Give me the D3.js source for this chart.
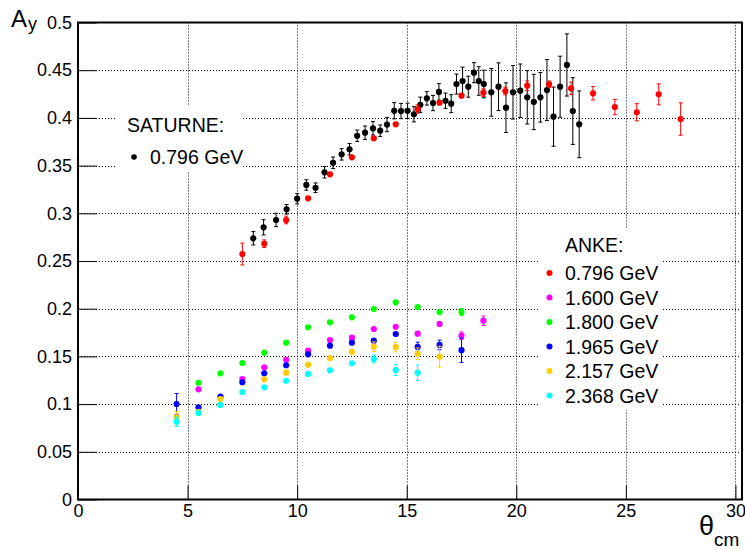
<!DOCTYPE html>
<html>
<head>
<meta charset="utf-8">
<script src="https://cdn.jsdelivr.net/npm/d3@7"></script>
<style>
  html, body { margin: 0; padding: 0; background: #fff; }
  svg { display: block; }
  text { font-family: "Liberation Sans", Arial, Helvetica, sans-serif; fill: #000; }
</style>
</head>
<body>
<svg id="chart" width="745" height="550"></svg>
<script>
// ---------------- DATA ----------------
const xTicks = [0, 5, 10, 15, 20, 25, 30];
const xTickLabels = ["0", "5", "10", "15", "20", "25", "30"];
const yTicks = [0, 0.05, 0.1, 0.15, 0.2, 0.25, 0.3, 0.35, 0.4, 0.45, 0.5];
const yTickLabels = ["0", "0.05", "0.1", "0.15", "0.2", "0.25", "0.3", "0.35", "0.4", "0.45", "0.5"];

// SATURNE 0.796 GeV (black)
const satX = [8.0, 8.47, 9.04, 9.52, 10.0, 10.42, 10.84, 11.25, 11.64, 12.03, 12.39, 12.74, 13.10, 13.46, 13.79,
  14.10, 14.43, 14.74, 15.04, 15.33, 15.62, 15.92, 16.20, 16.47, 16.77, 17.03, 17.27, 17.55, 17.81, 18.07,
  18.29, 18.52, 18.86, 19.19, 19.53, 19.85, 20.18, 20.50, 20.80, 21.10, 21.40, 21.70, 22.00, 22.31, 22.58, 22.87];
const satY = [0.2738, 0.2853, 0.2930, 0.3042, 0.3153, 0.3297, 0.3268, 0.3430, 0.3530, 0.3618, 0.3671, 0.3813, 0.3845, 0.3891, 0.3866,
  0.3930, 0.4075, 0.4072, 0.4075, 0.4038, 0.4138, 0.4205, 0.4156, 0.4272, 0.4180, 0.4149, 0.4355, 0.4387, 0.4327, 0.4474,
  0.4387, 0.4355, 0.4268, 0.4327, 0.4107, 0.4268, 0.4285, 0.4216, 0.4167, 0.4216, 0.4292, 0.4013, 0.4327, 0.4555, 0.4072, 0.3933];
const satErr = [0.007, 0.008, 0.007, 0.005, 0.0055, 0.0055, 0.005, 0.006, 0.006, 0.006, 0.006, 0.006, 0.007, 0.007, 0.006,
  0.0075, 0.0085, 0.008, 0.008, 0.008, 0.008, 0.007, 0.008, 0.0087, 0.008, 0.0094, 0.0105, 0.0145, 0.011, 0.0105,
  0.015, 0.0145, 0.025, 0.025, 0.026, 0.028, 0.028, 0.028, 0.029, 0.026, 0.032, 0.031, 0.032, 0.0326, 0.035, 0.035];

// ANKE series
const ankeLabels = ["0.796 GeV", "1.600 GeV", "1.800 GeV", "1.965 GeV", "2.157 GeV", "2.368 GeV"];
const ankeColors = ["#ff0000", "#ff00ff", "#00ff00", "#0000ff", "#ffcc00", "#00ffff"];

const a0796X = [7.5, 8.5, 9.5, 10.5, 11.5, 12.5, 13.5, 14.5, 15.5, 16.5, 17.5, 18.5, 19.5, 20.5, 21.5, 22.5, 23.5, 24.5, 25.5, 26.5, 27.5];
const a0796Y = [0.2573, 0.2681, 0.2930, 0.3157, 0.3409, 0.3587, 0.3786, 0.3933, 0.4093, 0.4159, 0.4233, 0.4264, 0.4282, 0.4338, 0.4352, 0.4310, 0.4258, 0.4114, 0.4059, 0.4247, 0.3988];
const a0796E = [0.0115, 0.004, 0.004, 0.003, 0.003, 0.003, 0.003, 0.003, 0.0044, 0.003, 0.003, 0.004, 0.004, 0.005, 0.0035, 0.0066, 0.007, 0.008, 0.009, 0.011, 0.017];

const a1600X = [5.5, 7.5, 8.5, 9.5, 10.5, 11.5, 12.5, 13.5, 14.5, 15.5, 16.5, 17.5, 18.5];
const a1600Y = [0.1155, 0.1263, 0.1386, 0.1465, 0.1560, 0.1672, 0.1696, 0.1787, 0.1811, 0.1738, 0.1840, 0.1717, 0.1874];
const a1600E = [0.002, 0.002, 0.002, 0.002, 0.002, 0.002, 0.002, 0.002, 0.003, 0.003, 0.003, 0.004, 0.005];

const a1800X = [5.5, 6.5, 7.5, 8.5, 9.5, 10.5, 11.5, 12.5, 13.5, 14.5, 15.5, 16.5, 17.5];
const a1800Y = [0.1224, 0.1323, 0.1431, 0.1539, 0.1644, 0.1805, 0.1857, 0.1910, 0.1997, 0.2067, 0.2018, 0.1965, 0.1965];
const a1800E = [0.002, 0.002, 0.002, 0.002, 0.002, 0.002, 0.002, 0.002, 0.002, 0.002, 0.002, 0.003, 0.0037];

const a1965X = [4.5, 5.5, 6.5, 7.5, 8.5, 9.5, 10.5, 11.5, 12.5, 13.5, 14.5, 15.5, 16.5, 17.5];
const a1965Y = [0.1001, 0.0966, 0.1078, 0.1229, 0.1323, 0.1407, 0.1522, 0.1612, 0.1644, 0.1665, 0.1735, 0.1599, 0.1620, 0.1565];
const a1965E = [0.011, 0.003, 0.003, 0.002, 0.002, 0.002, 0.002, 0.002, 0.002, 0.002, 0.003, 0.005, 0.005, 0.0127];

const a2157X = [4.5, 5.5, 6.5, 8.5, 9.5, 10.5, 11.5, 12.5, 13.5, 14.5, 15.5, 16.5];
const a2157Y = [0.0862, 0.0920, 0.1053, 0.1260, 0.1329, 0.1413, 0.1483, 0.1549, 0.1602, 0.1599, 0.1528, 0.1497];
const a2157E = [0.006, 0.003, 0.003, 0.002, 0.002, 0.002, 0.002, 0.003, 0.005, 0.005, 0.006, 0.011];

const a2368X = [4.5, 5.5, 6.5, 7.5, 8.5, 9.5, 10.5, 11.5, 12.5, 13.5, 14.5, 15.5];
const a2368Y = [0.0816, 0.0907, 0.0991, 0.1127, 0.1176, 0.1245, 0.1316, 0.1354, 0.1428, 0.1473, 0.1357, 0.1329];
const a2368E = [0.005, 0.003, 0.003, 0.002, 0.002, 0.002, 0.002, 0.002, 0.002, 0.004, 0.0056, 0.008];

// ---------------- CHART ----------------
const svg = d3.select("#chart");
const L = 78, R = 742, T = 22.5, B = 499.5;
const x = d3.scaleLinear().domain([0, 30.3]).range([L, R]);
const y = d3.scaleLinear().domain([0, 0.5]).range([B, T]);

// grid
const grid = svg.append("g").attr("stroke", "#000").attr("stroke-width", 1).attr("stroke-dasharray", "1,2");
grid.selectAll("line.gx").data(xTicks.filter(v => v > 0)).enter().append("line")
  .attr("x1", d => Math.round(x(d)) + 0.5).attr("x2", d => Math.round(x(d)) + 0.5)
  .attr("y1", T).attr("y2", B);
grid.selectAll("line.gy").data(yTicks.filter(v => v > 0 && v < 0.5)).enter().append("line")
  .attr("y1", d => Math.round(y(d)) + 0.5).attr("y2", d => Math.round(y(d)) + 0.5)
  .attr("x1", L).attr("x2", R);

// axes
const yAxis = d3.axisLeft(y).tickValues(yTicks).tickFormat((d, i) => yTickLabels[i])
  .tickSizeInner(-19).tickSizeOuter(0).tickPadding(6);
const gy = svg.append("g").attr("transform", `translate(${L},0)`).call(yAxis);
const xAxis = d3.axisBottom(x).tickValues(xTicks).tickFormat((d, i) => xTickLabels[i])
  .tickSizeInner(-14).tickSizeOuter(0).tickPadding(5);
const gx = svg.append("g").attr("transform", `translate(0,${B})`).call(xAxis);
[gx, gy].forEach(g => {
  g.select(".domain").remove();
  g.selectAll("text").style("font-size", "18px").style("font-family", "'Liberation Sans', Arial, sans-serif");
  g.selectAll("line").attr("stroke", "#000");
});

// frame
svg.append("rect").attr("x", L).attr("y", T).attr("width", R - L).attr("height", B - T)
  .attr("fill", "none").attr("stroke", "#000").attr("stroke-width", 2);

// legend boxes (white fill)
svg.append("rect").attr("x", 117).attr("y", 106).attr("width", 126).attr("height", 65).attr("fill", "#fff");
svg.append("rect").attr("x", 540).attr("y", 228).attr("width", 122).attr("height", 182).attr("fill", "#fff");

// data drawing helper
function drawSeries(xs, ys, es, color) {
  const g = svg.append("g");
  const pts = xs.map((v, i) => ({ x: v, y: ys[i], e: es[i] }));
  const cap = 2;
  pts.forEach(p => {
    const cx = x(p.x), top = y(p.y + p.e), bot = y(p.y - p.e);
    if (bot - top > 6) {
      g.append("line").attr("x1", cx).attr("x2", cx).attr("y1", top).attr("y2", bot)
        .attr("stroke", color).attr("stroke-width", 1);
      g.append("line").attr("x1", cx - cap).attr("x2", cx + cap).attr("y1", top).attr("y2", top)
        .attr("stroke", color).attr("stroke-width", 1);
      g.append("line").attr("x1", cx - cap).attr("x2", cx + cap).attr("y1", bot).attr("y2", bot)
        .attr("stroke", color).attr("stroke-width", 1);
    }
  });
  g.selectAll("circle").data(pts).enter().append("circle")
    .attr("cx", d => x(d.x)).attr("cy", d => y(d.y)).attr("r", 3.1).attr("fill", color);
}

drawSeries(satX, satY, satErr, "#000");
drawSeries(a0796X, a0796Y, a0796E, ankeColors[0]);
drawSeries(a1600X, a1600Y, a1600E, ankeColors[1]);
drawSeries(a1800X, a1800Y, a1800E, ankeColors[2]);
drawSeries(a1965X, a1965Y, a1965E, ankeColors[3]);
drawSeries(a2157X, a2157Y, a2157E, ankeColors[4]);
drawSeries(a2368X, a2368Y, a2368E, ankeColors[5]);

// SATURNE legend
svg.append("text").attr("x", 127).attr("y", 131.5).style("font-size", "19.5px").text("SATURNE:");
svg.append("circle").attr("cx", 134).attr("cy", 157).attr("r", 2.8).attr("fill", "#000");
svg.append("text").attr("x", 150).attr("y", 163.5).style("font-size", "19.5px").text("0.796 GeV");

// ANKE legend
svg.append("text").attr("x", 565).attr("y", 252).style("font-size", "19.5px").text("ANKE:");
const legRows = svg.append("g");
ankeLabels.forEach((lab, i) => {
  const by = 280 + i * 24.5;
  legRows.append("circle").attr("cx", 549.5).attr("cy", by - 7).attr("r", 3).attr("fill", ankeColors[i]);
  legRows.append("text").attr("x", 565).attr("y", by).style("font-size", "19.5px").text(lab);
});

// axis titles
const ty = svg.append("text").attr("x", 11).attr("y", 27).style("font-size", "24px");
ty.append("tspan").text("A");
ty.append("tspan").attr("dx", 1).attr("dy", 2.5).style("font-size", "18px").text("y");

const tx = svg.append("text").attr("x", 699).attr("y", 535).style("font-size", "27px");
tx.append("tspan").text("θ");
tx.append("tspan").attr("dy", 11).style("font-size", "19px").text("cm");
</script>
</body>
</html>
